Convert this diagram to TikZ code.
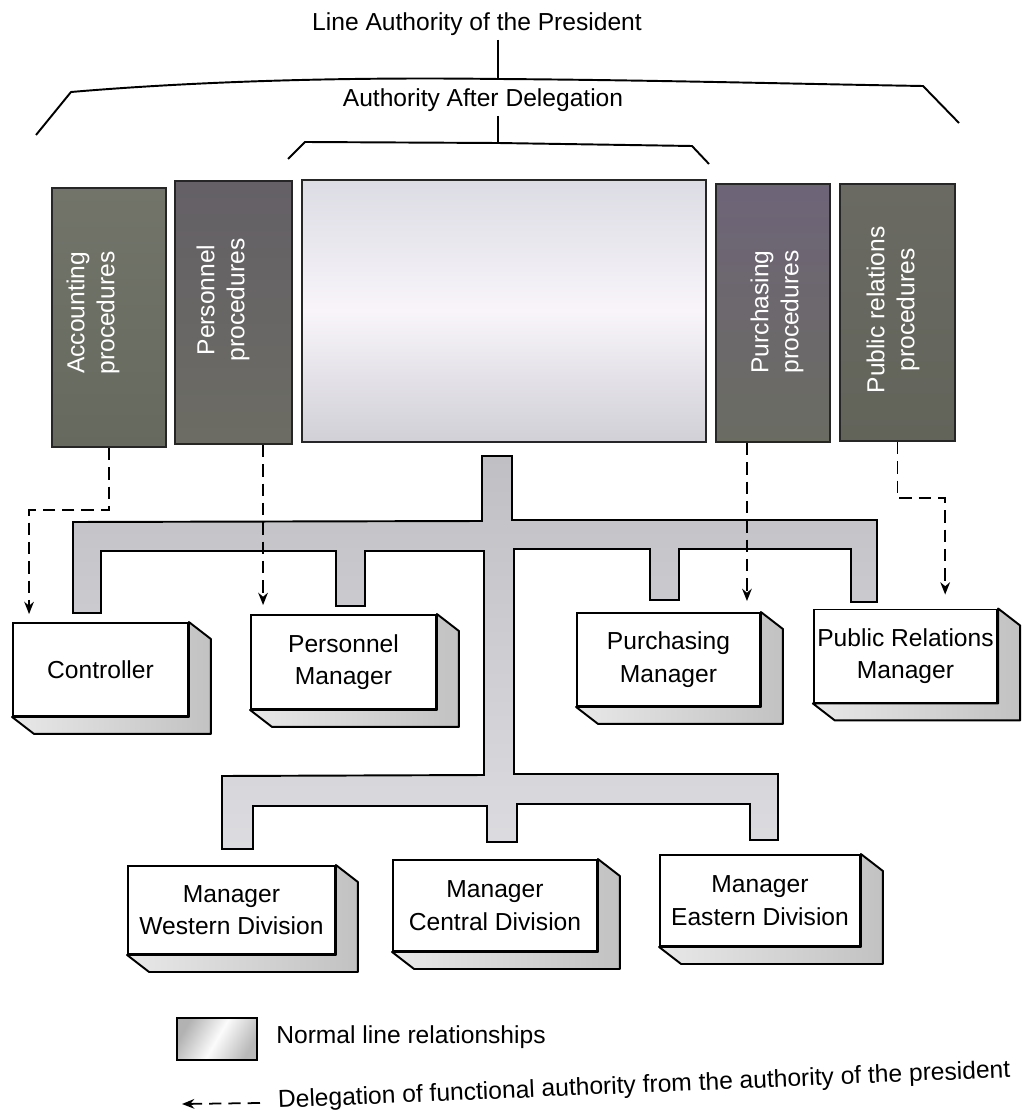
\documentclass[tikz,border=0pt]{standalone}
\usepackage{fontspec}
\setmainfont{Liberation Sans}
\usetikzlibrary{arrows.meta,calc}

% fills for the procedure blocks
\definecolor{accTop}{RGB}{114,116,106}
\definecolor{accBot}{RGB}{102,106,94}
\definecolor{perTop}{RGB}{100,96,102}
\definecolor{perBot}{RGB}{108,108,100}
\definecolor{purTop}{RGB}{110,100,120}
\definecolor{purBot}{RGB}{106,108,98}
\definecolor{prTop}{RGB}{106,106,98}
\definecolor{prBot}{RGB}{98,100,90}
\definecolor{cenTop}{RGB}{220,220,228}
\definecolor{cenMid}{RGB}{248,244,250}
\definecolor{cenBot}{RGB}{208,208,214}
\definecolor{pipeTop}{RGB}{192,192,196}
\definecolor{pipeBot}{RGB}{220,220,224}

% shaded side and bottom faces of a manager box
\newcommand\drawdepth[1]{%
  \draw[depthside] (#1.north east) -- ($(#1.north east)+(22,17)$)
    -- ($(#1.south east)+(22,17)$) -- ($(#1.south west)+(22,17)$)
    -- (#1.south west) -- (#1.south east) -- cycle;}

\begin{document}
\begin{tikzpicture}[x=0.02cm,y=-0.02cm,
  every node/.style={font=\fontsize{14}{18.5}\selectfont},
  bracket/.style={line width=1.1pt, line join=round},
  procblock/.style={rectangle, draw=black!85, line width=1.1pt, inner sep=0pt},
  proctext/.style={rotate=90, text=white, align=center, inner sep=1pt,
    font=\fontsize{14}{17}\selectfont},
  mgr/.style={rectangle, draw, line width=1.1pt, fill=white, align=center,
    inner sep=2pt},
  depthside/.style={line width=1.1pt, line join=round,
    left color=gray!18, right color=gray!48},
  pipe/.style={line width=1.1pt, line join=miter, top color=pipeTop,
    bottom color=pipeBot},
  deleg/.style={line width=1pt, dash pattern=on 7pt off 4pt,
    -{Stealth[length=7pt,width=5.5pt]}},
  caption/.style={anchor=base, inner sep=2pt}
]
\useasboundingbox (0,0) rectangle (1034,1118);
\fill[white] (0,0) rectangle (1034,1118);

% ---------- authority brackets ----------
\node[caption] (title) at (477,31) {Line Authority of the President};
\coordinate (o1) at (36,135);
\coordinate (o2) at (71,92);
\coordinate (opk) at (498,79);
\coordinate (o3) at (923,86);
\coordinate (o4) at (959,123);
\draw[bracket] (o1) -- (o2) .. controls (200,81) and (350,77) .. (opk)
  .. controls (650,80) and (800,84) .. (o3) -- (o4);
\draw[bracket] (title.south -| opk) -- (opk);

\node[caption] (sub) at (483,107) {Authority After Delegation};
\coordinate (i1) at (288,159);
\coordinate (i2) at (305,142);
\coordinate (ipk) at (498,143);
\coordinate (i3) at (692,146);
\coordinate (i4) at (709,164);
\draw[bracket] (i1) -- (i2) -- (ipk) -- (i3) -- (i4);
\draw[bracket] (sub.south -| ipk) -- (ipk);

% ---------- procedure blocks ----------
\node[procblock, top color=accTop, bottom color=accBot,
  minimum width=2.28cm, minimum height=5.18cm] (acc) at (109,317.5) {};
\node[procblock, top color=perTop, bottom color=perBot,
  minimum width=2.34cm, minimum height=5.26cm] (per) at (233.5,312.5) {};
\node[procblock, top color=cenTop, bottom color=cenBot, middle color=cenMid,
  minimum width=8.08cm, minimum height=5.24cm] (cen) at (504,311) {};
\node[procblock, top color=purTop, bottom color=purBot,
  minimum width=2.28cm, minimum height=5.16cm] (pur) at (773,313) {};
\node[procblock, top color=prTop, bottom color=prBot,
  minimum width=2.30cm, minimum height=5.14cm] (pr) at (897.5,312.5) {};

\node[proctext] (acctext) at (93,313) {Accounting\\procedures};
\node[proctext] (pertext) at (223,300) {Personnel\\procedures};
\node[proctext] (purtext) at (777,312) {Purchasing\\procedures};
\node[proctext] (prtext) at (893,310) {Public relations\\procedures};

% ---------- normal line relationships ----------
\draw[pipe] (482,456) -- (482,521) -- (73,522) -- (73,613) -- (101,613)
  -- (101,551) -- (336,551) -- (336,606) -- (365,606) -- (365,551)
  -- (484,551) -- (484,775) -- (222,776) -- (222,849) -- (253,849)
  -- (253,806) -- (487,806) -- (487,842) -- (517,842) -- (517,804)
  -- (750,804) -- (750,840) -- (778,840) -- (778,774) -- (514,774)
  -- (514,549) -- (650,549) -- (650,600) -- (679,600) -- (679,549)
  -- (851,549) -- (851,602) -- (877,602) -- (877,520) -- (512,520)
  -- (512,456) -- cycle;

% ---------- managers ----------
\node[mgr, minimum width=3.50cm, minimum height=1.86cm] (ctrl) at (100.5,669.5) {Controller};
\node[mgr, minimum width=3.70cm, minimum height=1.88cm] (pm) at (343.5,662) {Personnel\\Manager};
\node[mgr, minimum width=3.66cm, minimum height=1.86cm] (purm) at (668.5,659.5) {Purchasing\\Manager};
\node[mgr, minimum width=3.62cm, minimum height=1.86cm] (prm) at (905.5,656) {Public Relations\\Manager};
\node[mgr, minimum width=4.14cm, minimum height=1.76cm] (wm) at (231.5,910) {Manager\\Western Division};
\node[mgr, minimum width=4.08cm, minimum height=1.82cm] (cm) at (495,905.5) {Manager\\Central Division};
\node[mgr, minimum width=4.00cm, minimum height=1.82cm] (em) at (760,900.5) {Manager\\Eastern Division};
\foreach \b in {ctrl,pm,purm,prm,wm,cm,em} {\drawdepth{\b}}

% ---------- functional authority ----------
\coordinate (ctrltip) at ($(ctrl.north west)+(17,-8)$);
\coordinate (pmtip) at ($(pm.north west)+(13,-9)$);
\coordinate (purtip) at ($(purm.north east)+(-14,-11)$);
\coordinate (prtip) at ($(prm.north east)+(-53,-14)$);
\draw[deleg] (acc.south) -- ++(0,62) -| (ctrltip);
\draw[deleg] (per.south -| pmtip) -- (pmtip);
\draw[deleg] (pur.south -| purtip) -- (purtip);
\draw[deleg] (pr.south) -- ++(0,56) -| (prtip);

% ---------- key ----------
\node[rectangle, draw, line width=1.1pt, minimum width=1.6cm, minimum height=0.84cm,
  left color=gray!60, right color=gray!55, shading angle=60, middle color=gray!3]
  (legbox) at (217,1039) {};
\node[anchor=base west, inner sep=0pt] (legline) at (276,1043) {Normal line relationships};
\coordinate (lga) at (260,1103);
\coordinate (lgb) at (182,1104);
\draw[deleg] (lga) -- (lgb);
\node[anchor=base west, inner sep=0pt, rotate=2.4] (legdeleg) at (278,1108)
  {Delegation of functional authority from the authority of the president};
\end{tikzpicture}
\end{document}
